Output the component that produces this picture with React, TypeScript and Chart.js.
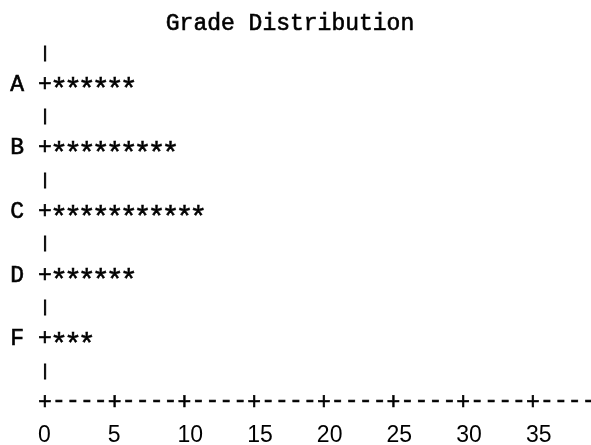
import React, { useEffect, useRef } from 'react';
import { Chart, registerables } from 'chart.js';

Chart.register(...registerables);

const TITLE = 'Grade Distribution';
const grades = ['A', 'B', 'C', 'D', 'F'];
const counts = [6, 9, 11, 6, 3];
const xTickValues = [0, 5, 10, 15, 20, 25, 30, 35];
const xMax = 39;

const MONO = '"Liberation Mono", "DejaVu Sans Mono", monospace';
const SANS = '"Liberation Sans", Arial, sans-serif';
const FONT_SIZE = 23;

function drawCentered(ctx: CanvasRenderingContext2D, text: string, x: number, y: number, font: string, stroke = 0) {
  ctx.font = font;
  ctx.textAlign = 'center';
  ctx.textBaseline = 'alphabetic';
  const m = ctx.measureText(text);
  const by = y + (m.actualBoundingBoxAscent - m.actualBoundingBoxDescent) / 2;
  ctx.fillText(text, x, by);
  if (stroke > 0) {
    ctx.lineWidth = stroke;
    ctx.strokeText(text, x, by);
  }
}

const asciiPlugin = {
  id: 'asciiPlot',
  afterDatasetsDraw(chart: any) {
    const { ctx, chartArea } = chart;
    const xs = chart.scales.x;
    const ys = chart.scales.y;
    const unit = xs.getPixelForValue(1) - xs.getPixelForValue(0);
    const x0 = xs.getPixelForValue(0);
    const half = (ys.getPixelForValue(1) - ys.getPixelForValue(0)) / 2;
    const mono = `${FONT_SIZE}px ${MONO}`;
    ctx.save();
    ctx.fillStyle = '#000';
    ctx.strokeStyle = '#000';
    // title
    drawCentered(ctx, TITLE, 290, 21, mono, 0.6);
    // pipe font sized so that the glyph is ~16px tall
    ctx.font = mono;
    const pm = ctx.measureText('|');
    const pipeSize = (FONT_SIZE * 16) / (pm.actualBoundingBoxAscent + pm.actualBoundingBoxDescent);
    const pipeFont = `${pipeSize}px ${MONO}`;
    for (let i = 0; i <= grades.length; i++) {
      const y = ys.getPixelForValue(i - 0.5) + 2;
      drawCentered(ctx, '|', x0, y, pipeFont, 0.9);
    }
    // bars as asterisks
    const starFont = `30px ${MONO}`;
    const meta = chart.getDatasetMeta(0);
    meta.data.forEach((bar: any, i: number) => {
      const y = bar.y;
      const value = chart.data.datasets[0].data[i] as number;
      drawCentered(ctx, String(chart.data.labels[i]), x0 - 2 * unit, y, mono, 0.6);
      drawCentered(ctx, '+', bar.base, y, mono, 0.6);
      for (let k = 1; k <= value; k++) {
        drawCentered(ctx, '*', xs.getPixelForValue(k), y, starFont, 0.5);
      }
    });
    // horizontal axis
    const yAxis = chartArea.bottom + half;
    for (let v = xs.min; v <= xs.max; v++) {
      drawCentered(ctx, xTickValues.includes(v) ? '+' : '-', xs.getPixelForValue(v), yAxis, mono, 0.6);
    }
    // tick labels
    ctx.font = `${FONT_SIZE}px ${SANS}`;
    ctx.textAlign = 'left';
    ctx.textBaseline = 'alphabetic';
    xTickValues.forEach((v) => {
      ctx.fillText(String(v), xs.getPixelForValue(v) - unit / 2, chartArea.bottom + 2 * half + 9);
    });
    ctx.restore();
  },
};

export default function App() {
  const ref = useRef<HTMLCanvasElement | null>(null);
  useEffect(() => {
    if (!ref.current) return;
    const chart = new Chart(ref.current, {
      type: 'bar',
      data: {
        labels: grades,
        datasets: [
          {
            label: 'Count',
            data: counts,
            backgroundColor: 'rgba(0,0,0,0)',
            borderWidth: 0,
          },
        ],
      },
      options: {
        indexAxis: 'y',
        responsive: false,
        animation: false,
        layout: { padding: { left: 45, right: 2.3, top: 51, bottom: 76 } },
        scales: {
          x: { type: 'linear', min: 0, max: xMax, display: false },
          y: { type: 'category', display: false, offset: true },
        },
        plugins: {
          legend: { display: false },
          tooltip: { enabled: false },
          title: { display: false },
        },
      },
      plugins: [asciiPlugin],
    });
    return () => chart.destroy();
  }, []);
  return (
    <div style={{ position: 'fixed', left: 0, top: 0, width: 591, height: 445, background: '#fff' }}>
      <canvas ref={ref} width={591} height={445} />
    </div>
  );
}
